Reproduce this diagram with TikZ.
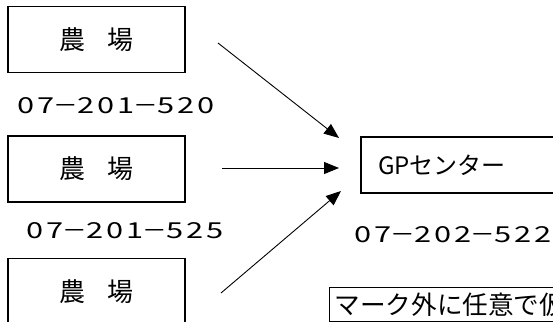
\documentclass[tikz,border=0pt]{standalone}
\usepackage{fontspec}
\setmainfont{Noto Sans CJK JP}
\usetikzlibrary{arrows.meta}
\newcommand\dg[1]{\makebox[20pt]{\scalebox{1.4}[1]{#1}}}
\newcommand\dsh{\makebox[20pt]{\scalebox{1.12}[1]{－}}}
\begin{document}
\begin{tikzpicture}[x=1pt,y=-1pt,
  farmbox/.style={draw,line width=1.3pt,minimum width=177pt,minimum height=66pt,inner sep=0pt,font=\fontsize{26}{30}\selectfont},
  codelabel/.style={anchor=base west,inner sep=0pt,font=\fontsize{22}{26}\selectfont},
  arr/.style={line width=0.9pt,-{Triangle[length=15pt,width=12pt]}}]
\useasboundingbox (0,0) rectangle (553,321);
\clip (0,0) rectangle (553,321);
\node[farmbox] (f1) at (96.5,39.5) {農\hspace{22pt}場};
\node[farmbox] (f2) at (96.5,169) {農\hspace{22pt}場};
\node[farmbox] (f3) at (96.5,291.5) {農\hspace{22pt}場};
\node[codelabel] (l1) at (16,113) {\dg{0}\dg{7}\dsh\dg{2}\dg{0}\dg{1}\dsh\dg{5}\dg{2}\dg{0}};
\node[codelabel] (l2) at (25,238) {\dg{0}\dg{7}\dsh\dg{2}\dg{0}\dg{1}\dsh\dg{5}\dg{2}\dg{5}};
\node[codelabel] (l3) at (353,242) {\dg{0}\dg{7}\dsh\dg{2}\dg{0}\dg{2}\dsh\dg{5}\dg{2}\dg{2}};
\node[draw,line width=1.3pt,minimum height=56pt,inner xsep=17pt,inner ysep=0pt,text width=205pt,align=left,font=\fontsize{24}{28}\selectfont] (gp) at (480.5,165) {GPセンター};
\node[draw,line width=1.3pt,anchor=north west,inner xsep=5pt,inner ysep=5pt,text width=300pt,align=left,font=\fontsize{25.6}{30}\selectfont] (note) at (329,287) {マーク外に任意で仮};
\coordinate (a1s) at (218,43);
\coordinate (a1e) at (339,138);
\coordinate (a2s) at (222,168);
\coordinate (a2e) at (339,168);
\coordinate (a3s) at (221,293);
\coordinate (a3e) at (341,191);
\draw[arr] (a1s) -- (a1e);
\draw[arr] (a2s) -- (a2e);
\draw[arr] (a3s) -- (a3e);
\end{tikzpicture}
\end{document}
